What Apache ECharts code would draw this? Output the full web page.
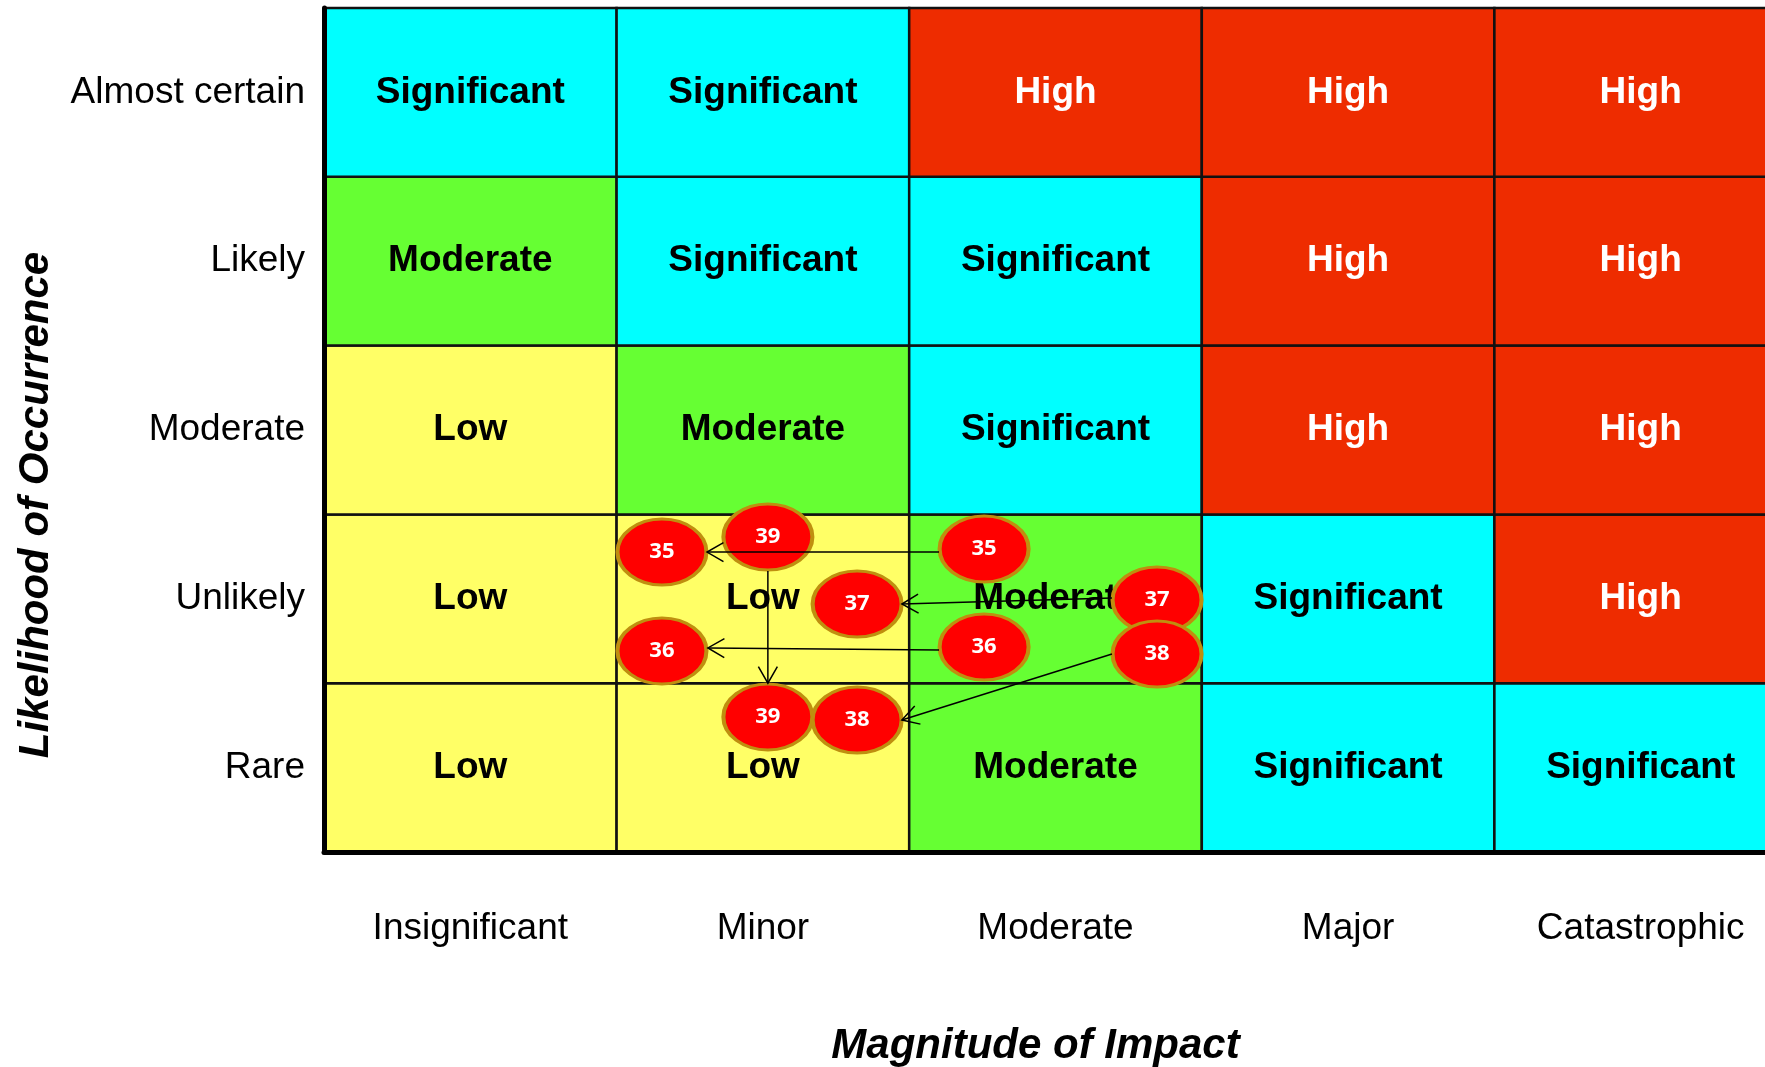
<!DOCTYPE html>
<html>
<head>
<meta charset="utf-8">
<script src="https://cdn.jsdelivr.net/npm/echarts@6/dist/echarts.min.js"></script>
<style>html,body{margin:0;padding:0;background:#fff;}#main{width:1765px;height:1067px;}</style>
</head>
<body>
<div id="main"></div>
<script>
// Axis categories
const impacts = ['Insignificant', 'Minor', 'Moderate', 'Major', 'Catastrophic'];
const likelihoods = ['Rare', 'Unlikely', 'Moderate', 'Likely', 'Almost certain'];

// Risk matrix rows (bottom to top)
const rowRare = ['Low', 'Low', 'Moderate', 'Significant', 'Significant'];
const rowUnlikely = ['Low', 'Low', 'Moderate', 'Significant', 'High'];
const rowModerate = ['Low', 'Moderate', 'Significant', 'High', 'High'];
const rowLikely = ['Moderate', 'Significant', 'Significant', 'High', 'High'];
const rowAlmostCertain = ['Significant', 'Significant', 'High', 'High', 'High'];

// Risk bubbles (position within matrix, in cell units)
const riskIds = ['35', '39', '35', '37', '37', '36', '36', '38', '39', '38'];
const riskX =   [1.155, 1.517, 2.256, 1.822, 2.847, 1.155, 2.256, 2.847, 1.517, 1.822];
const riskY =   [1.777, 1.866, 1.795, 1.469, 1.493, 1.191, 1.214, 1.173, 0.800, 0.782];

// Movement arrows: from [x, y] to [x, y]
const arrowFrom = [[2.102, 1.777], [2.693, 1.505], [2.102, 1.197], [2.693, 1.173], [1.517, 1.664]];
const arrowTo =   [[1.309, 1.777], [1.975, 1.469], [1.312, 1.209], [1.975, 0.782], [1.517, 1.000]];

const levelColors = { Low: '#FFFF66', Moderate: '#66FF33', Significant: '#00FFFF', High: '#EE2C00' };
const levelText = { Low: '#000000', Moderate: '#000000', Significant: '#000000', High: '#FFFFFF' };

const rows = [rowRare, rowUnlikely, rowModerate, rowLikely, rowAlmostCertain];
const cellData = [];
rows.forEach(function (row, yi) {
  row.forEach(function (lvl, xi) {
    cellData.push({ value: [xi, yi], name: lvl });
  });
});

const bubbleData = riskIds.map(function (id, i) { return { value: [riskX[i], riskY[i]], name: id }; });
const arrowData = arrowFrom.map(function (f, i) { return [f[0], f[1], arrowTo[i][0], arrowTo[i][1]]; });

const FONT = '"Liberation Sans", Arial, sans-serif';

const chart = echarts.init(document.getElementById('main'), null, { renderer: 'canvas' });
chart.setOption({
  backgroundColor: '#ffffff',
  animation: false,
  grid: { left: 324, top: 8, width: 1463, height: 844, containLabel: false, outerBoundsMode: 'none' },
  xAxis: [
    {
      type: 'category', data: impacts, position: 'bottom', z: 10,
      axisLine: { show: true, lineStyle: { color: '#000', width: 5 } },
      axisTick: { show: false },
      splitLine: { show: false },
      axisLabel: { color: '#000', fontSize: 37, fontFamily: FONT, margin: 58 },
      name: 'Magnitude of Impact', nameLocation: 'middle', nameGap: 173,
      nameTextStyle: { color: '#000', fontSize: 42, fontWeight: 'bold', fontStyle: 'italic', fontFamily: FONT, padding: [0, 40, 0, 0] }
    },
    { type: 'value', min: 0, max: 5, show: false }
  ],
  yAxis: [
    {
      type: 'category', data: likelihoods, position: 'left', z: 10,
      axisLine: { show: true, lineStyle: { color: '#000', width: 5 } },
      axisTick: { show: false },
      splitLine: { show: false },
      axisLabel: { color: '#000', fontSize: 37, fontFamily: FONT, margin: 19, padding: [15, 0, 0, 0] },
      name: 'Likelihood of Occurrence', nameLocation: 'middle', nameGap: 267,
      nameTextStyle: { color: '#000', fontSize: 42, fontWeight: 'bold', fontStyle: 'italic', fontFamily: FONT, padding: [0, 150, 0, 0] }
    },
    { type: 'value', min: 0, max: 5, show: false }
  ],
  series: [
    {
      type: 'custom', name: 'cells', xAxisIndex: 0, yAxisIndex: 0, z: 2,
      data: cellData,
      renderItem: function (params, api) {
        const c = api.coord([api.value(0), api.value(1)]);
        const s = api.size([1, 1]);
        const lvl = cellData[params.dataIndex].name;
        return {
          type: 'rect',
          shape: { x: c[0] - s[0] / 2, y: c[1] - s[1] / 2, width: s[0], height: s[1] },
          style: { fill: levelColors[lvl], stroke: '#111', lineWidth: 2.5 },
          textContent: {
            style: { text: lvl, fill: levelText[lvl], fontSize: 37, fontWeight: 'bold', fontFamily: FONT, padding: [15, 0, 0, 0] }
          },
          textConfig: { position: 'inside' }
        };
      }
    },
    {
      type: 'scatter', name: 'risks', xAxisIndex: 1, yAxisIndex: 1, z: 4,
      symbol: 'circle', symbolSize: [89, 66],
      itemStyle: { color: '#FF0000', borderColor: '#BF8F0F', borderWidth: 3.5, opacity: 1 },
      label: { show: true, position: 'inside', formatter: '{b}', color: '#fff', fontSize: 22, fontWeight: 'bold', fontFamily: '"Open Sans", "Noto Sans", sans-serif' },
      data: bubbleData
    },
    {
      type: 'custom', name: 'arrows', xAxisIndex: 1, yAxisIndex: 1, z: 6,
      data: arrowData,
      renderItem: function (params, api) {
        const p1 = api.coord([api.value(0), api.value(1)]);
        const p2 = api.coord([api.value(2), api.value(3)]);
        const ang = Math.atan2(p2[1] - p1[1], p2[0] - p1[0]);
        const L = 19, a = Math.PI / 6;
        const h1 = [p2[0] - L * Math.cos(ang - a), p2[1] - L * Math.sin(ang - a)];
        const h2 = [p2[0] - L * Math.cos(ang + a), p2[1] - L * Math.sin(ang + a)];
        return {
          type: 'group',
          children: [
            { type: 'line', shape: { x1: p1[0], y1: p1[1], x2: p2[0], y2: p2[1] }, style: { stroke: '#000', lineWidth: 1.5 } },
            { type: 'polyline', shape: { points: [h1, p2, h2] }, style: { stroke: '#000', lineWidth: 1.5, fill: null } }
          ]
        };
      }
    }
  ]
});
</script>
</body>
</html>
